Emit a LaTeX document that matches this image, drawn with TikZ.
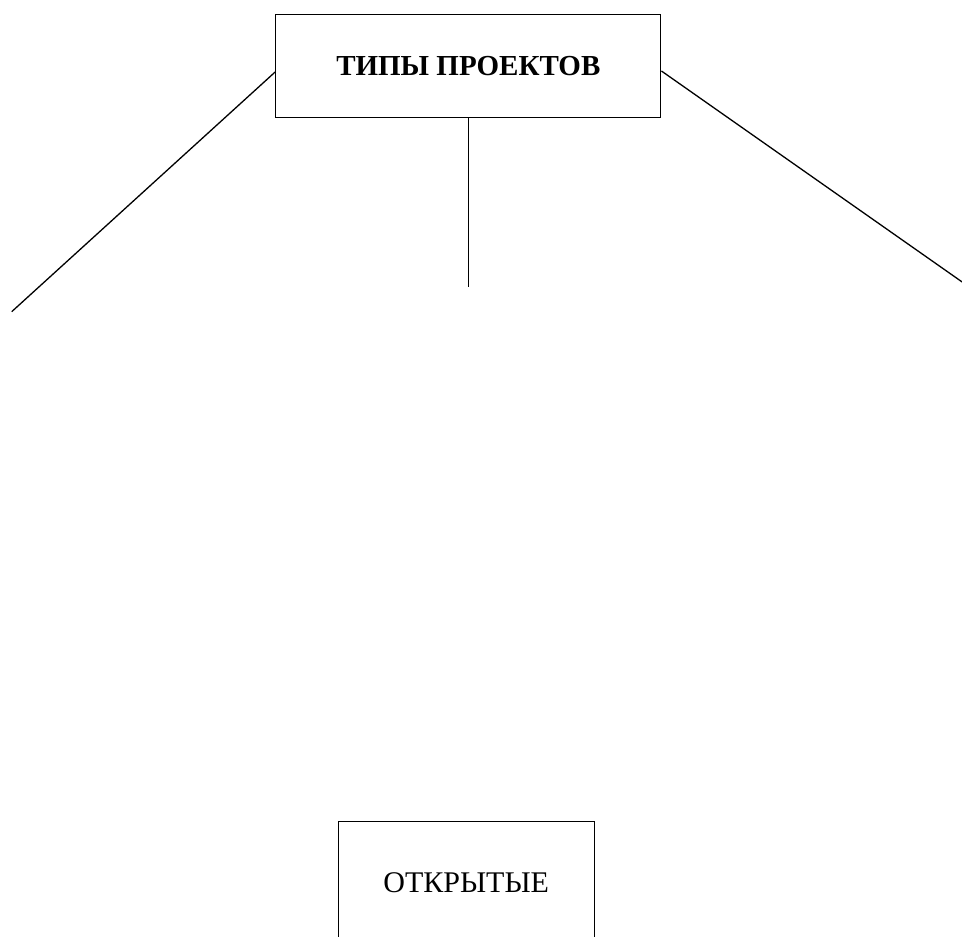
\documentclass[tikz,border=0pt]{standalone}
\usepackage{fontspec}
\setmainfont{Liberation Serif}
\begin{document}
\begin{tikzpicture}[x=1pt,y=-1pt,
  box/.style={draw,line width=1.3pt,rectangle,inner sep=0pt,align=center},
  conn/.style={line width=1.3pt}]
\useasboundingbox (0,0) rectangle (962,937);
\clip (0,0) rectangle (962,937);
\node[box,minimum width=385pt,minimum height=103pt,font=\fontsize{29}{34}\selectfont\bfseries] (top) at (468.3,65.8) {ТИПЫ ПРОЕКТОВ};
\node[box,minimum width=256pt,minimum height=122pt,font=\fontsize{30}{35}\selectfont] (open) at (466.2,882.7) {ОТКРЫТЫЕ};
\coordinate (lend) at (11.7,311.7);
\coordinate (mend) at (468.3,287.3);
\coordinate (rend) at (975,291);
\draw[conn] (top.west |- 0,72) -- (lend);
\draw[conn] (top.south) -- (mend);
\draw[conn] (top.east |- 0,71) -- (rend);
\end{tikzpicture}
\end{document}
